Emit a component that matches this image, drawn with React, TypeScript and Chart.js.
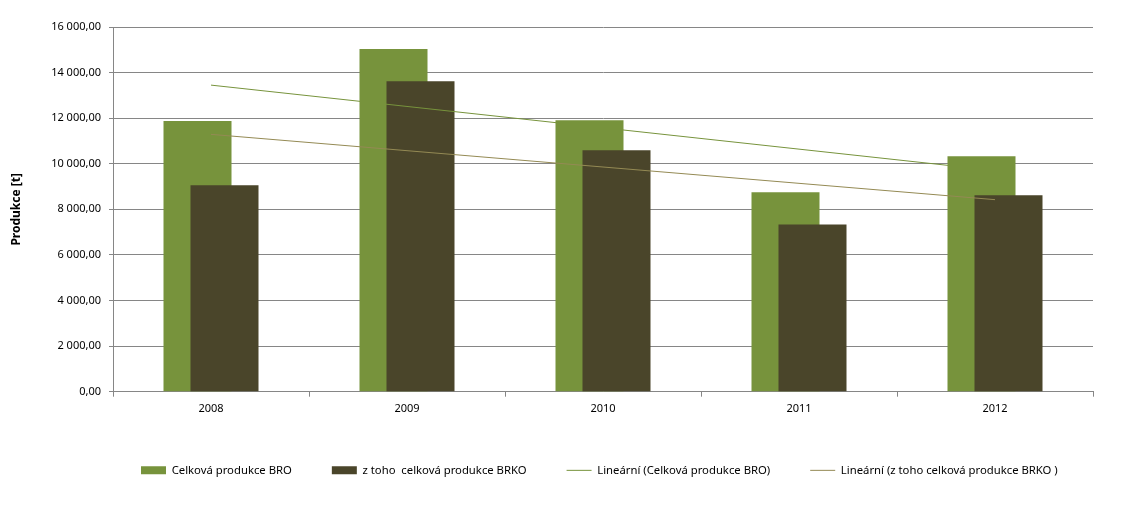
import React, { useEffect, useRef } from "react";
import { Chart, registerables } from "chart.js";

Chart.register(...registerables);

const years = ["2008", "2009", "2010", "2011", "2012"];
const celkovaBRO = [11880, 15030, 11910, 8750, 10330];
const brko = [9055, 13625, 10595, 7340, 8615];
const trendBRO = [13450, null, null, null, 9705];
const trendBRKO = [11290, null, null, null, 8425];
const labels = [
  "Celková produkce BRO",
  "z toho  celková produkce BRKO",
  "Lineární (Celková produkce BRO)",
  "Lineární (z toho celková produkce BRKO )",
];

const FONT = "'Noto Sans', 'Open Sans', sans-serif";
const LEGEND_START = 141;
const LEGEND_PAD = 40;

function fmt(v: number): string {
  const [i, d] = Math.abs(v).toFixed(2).split(".");
  const g = i.replace(/\B(?=(\d{3})+(?!\d))/g, " ");
  return (v < 0 ? "-" : "") + g + "," + d;
}

const drawOrderPlugin = {
  id: "drawOrder",
  afterLayout(chart: any) {
    const lg = chart.legend;
    if (lg) {
      const w = lg.right - lg.left;
      lg.left = LEGEND_START - LEGEND_PAD;
      lg.right = lg.left + w;
    }
  },
  beforeDatasetsDraw(chart: any) {
    const n = chart.data.datasets.length;
    for (let i = 0; i < n; i++) {
      const meta = chart.getDatasetMeta(i);
      if (!meta.hidden) meta.controller.draw();
    }
    return false;
  },
};

export default function App() {
  const ref = useRef<HTMLCanvasElement>(null);
  useEffect(() => {
    const chart = new Chart(ref.current!, {
      type: "bar",
      data: {
        labels: years,
        datasets: [
          {
            type: "bar",
            label: labels[0],
            data: celkovaBRO,
            backgroundColor: "#77933C",
            borderWidth: 0,
            pointStyle: "rect",
            categoryPercentage: 54 / 196,
            barPercentage: 68 / 27,
          } as any,
          {
            type: "bar",
            label: labels[1],
            data: brko,
            backgroundColor: "#4A452A",
            borderWidth: 0,
            pointStyle: "rect",
            categoryPercentage: 54 / 196,
            barPercentage: 68 / 27,
          } as any,
          {
            type: "line",
            label: labels[2],
            data: trendBRO,
            borderColor: "#77933C",
            backgroundColor: "#77933C",
            borderWidth: 1,
            pointRadius: 0,
            pointStyle: "line",
            spanGaps: true,
          } as any,
          {
            type: "line",
            label: labels[3],
            data: trendBRKO,
            borderColor: "#948A54",
            backgroundColor: "#948A54",
            borderWidth: 1,
            pointRadius: 0,
            pointStyle: "line",
            spanGaps: true,
          } as any,
        ],
      },
      options: {
        animation: false,
        responsive: false,
        maintainAspectRatio: false,
        layout: { padding: { top: 27, right: 38, left: 5, bottom: 20 } },
        plugins: {
          tooltip: { enabled: false },
          legend: {
            position: "bottom",
            fullSize: true,
            align: "start",
            labels: {
              usePointStyle: true,
              pointStyleWidth: 25,
              boxHeight: 8,
              padding: LEGEND_PAD,
              color: "#000",
              font: { family: FONT, size: 11.3 },
            },
          },
        },
        scales: {
          x: {
            grid: {
              drawOnChartArea: false,
              drawTicks: true,
              tickLength: 5,
              color: "#868686",
            },
            border: { color: "#868686" },
            ticks: { color: "#000", font: { family: FONT, size: 11 }, padding: 6 },
            afterFit: (s: any) => {
              s.height = 33;
            },
          },
          y: {
            min: 0,
            max: 16000,
            ticks: {
              stepSize: 2000,
              color: "#000",
              padding: 8,
              font: { family: FONT, size: 11 },
              callback: (v: any) => fmt(Number(v)),
            },
            grid: { color: "#868686", tickLength: 4 },
            border: { color: "#868686" },
            title: {
              display: true,
              text: "Produkce [t]",
              color: "#000",
              font: { family: FONT, size: 12, weight: "bold" },
            },
            afterFit: (s: any) => {
              s.width = 108;
            },
          },
        },
      },
      plugins: [drawOrderPlugin],
    } as any);
    return () => chart.destroy();
  }, []);
  return (
    <div style={{ position: "fixed", left: 0, top: 0, width: 1131, height: 506, background: "#fff" }}>
      <canvas ref={ref} width={1131} height={506} style={{ display: "block" }} />
    </div>
  );
}
